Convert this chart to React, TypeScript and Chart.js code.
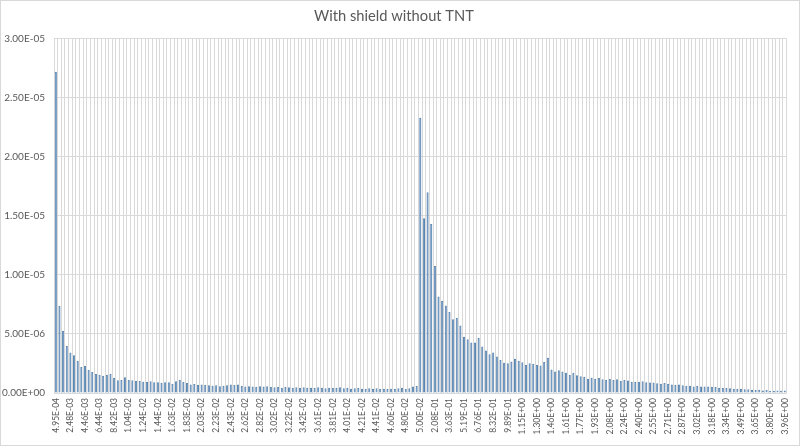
import { useEffect, useRef } from "react";
import { Chart, registerables, type Plugin } from "chart.js";

Chart.register(...registerables);

// Bin labels shown on the x axis (every 4th bin)
const TICK_LABELS: string[] = [
  "4.95E-04", "2.48E-03", "4.46E-03", "6.44E-03", "8.42E-03",
  "1.04E-02", "1.24E-02", "1.44E-02", "1.63E-02", "1.83E-02",
  "2.03E-02", "2.23E-02", "2.43E-02", "2.62E-02", "2.82E-02",
  "3.02E-02", "3.22E-02", "3.42E-02", "3.61E-02", "3.81E-02",
  "4.01E-02", "4.21E-02", "4.41E-02", "4.60E-02", "4.80E-02",
  "5.00E-02", "2.08E-01", "3.63E-01", "5.19E-01", "6.76E-01",
  "8.32E-01", "9.89E-01", "1.15E+00", "1.30E+00", "1.46E+00",
  "1.61E+00", "1.77E+00", "1.93E+00", "2.08E+00", "2.24E+00",
  "2.40E+00", "2.55E+00", "2.71E+00", "2.87E+00", "3.02E+00",
  "3.18E+00", "3.34E+00", "3.49E+00", "3.65E+00", "3.80E+00",
  "3.96E+00",
];
const LABEL_EVERY = 4;

// Counts per bin (201 bins)
const LOW_BINS: number[] = [
  27.2e-6, 7.37e-6, 5.25e-6, 3.98e-6, 3.42e-6, 3.19e-6, 2.71e-6, 2.20e-6, 2.29e-6, 1.95e-6,
  1.78e-6, 1.61e-6, 1.55e-6, 1.47e-6, 1.55e-6, 1.61e-6, 1.27e-6, 1.07e-6, 1.10e-6, 1.33e-6,
  1.10e-6, 1.07e-6, 1.02e-6, 1.02e-6, 0.96e-6, 0.93e-6, 0.99e-6, 0.90e-6, 0.90e-6, 0.85e-6,
  0.90e-6, 0.90e-6, 0.78e-6, 0.99e-6, 1.10e-6, 0.93e-6, 0.85e-6, 0.73e-6, 0.76e-6, 0.68e-6,
  0.71e-6, 0.68e-6, 0.65e-6, 0.62e-6, 0.65e-6, 0.57e-6, 0.62e-6, 0.65e-6, 0.71e-6, 0.68e-6,
  0.71e-6, 0.59e-6, 0.54e-6, 0.57e-6, 0.54e-6, 0.51e-6, 0.57e-6, 0.54e-6, 0.57e-6, 0.51e-6,
  0.48e-6, 0.51e-6, 0.45e-6, 0.51e-6, 0.48e-6, 0.45e-6, 0.48e-6, 0.42e-6, 0.48e-6, 0.45e-6,
  0.45e-6, 0.42e-6, 0.48e-6, 0.45e-6, 0.40e-6, 0.45e-6, 0.42e-6, 0.45e-6, 0.48e-6, 0.40e-6,
  0.42e-6, 0.37e-6, 0.40e-6, 0.42e-6, 0.37e-6, 0.34e-6, 0.40e-6, 0.37e-6, 0.40e-6, 0.34e-6,
  0.37e-6, 0.34e-6, 0.37e-6, 0.37e-6, 0.40e-6, 0.42e-6, 0.34e-6, 0.40e-6, 0.55e-6, 0.60e-6,
];
const HIGH_BINS: number[] = [
  23.3e-6, 14.8e-6, 17.0e-6, 14.3e-6, 10.76e-6, 8.16e-6, 7.80e-6, 7.40e-6, 6.86e-6, 6.24e-6,
  6.36e-6, 5.71e-6, 4.77e-6, 4.55e-6, 4.27e-6, 4.27e-6, 4.66e-6, 3.93e-6, 3.59e-6, 3.28e-6,
  3.42e-6, 3.08e-6, 2.80e-6, 2.57e-6, 2.52e-6, 2.67e-6, 2.91e-6, 2.71e-6, 2.60e-6, 2.37e-6,
  2.51e-6, 2.46e-6, 2.37e-6, 2.32e-6, 2.63e-6, 2.99e-6, 1.98e-6, 1.81e-6, 1.92e-6, 1.81e-6,
  1.72e-6, 1.53e-6, 1.72e-6, 1.50e-6, 1.41e-6, 1.38e-6, 1.21e-6, 1.30e-6, 1.21e-6, 1.27e-6,
  1.16e-6, 1.10e-6, 1.19e-6, 1.10e-6, 1.16e-6, 1.02e-6, 1.10e-6, 1.05e-6, 0.96e-6, 0.96e-6,
  0.93e-6, 0.99e-6, 0.90e-6, 0.88e-6, 0.88e-6, 0.82e-6, 0.79e-6, 0.85e-6, 0.79e-6, 0.73e-6,
  0.68e-6, 0.71e-6, 0.65e-6, 0.62e-6, 0.62e-6, 0.56e-6, 0.59e-6, 0.54e-6, 0.56e-6, 0.54e-6,
  0.51e-6, 0.51e-6, 0.45e-6, 0.45e-6, 0.42e-6, 0.40e-6, 0.37e-6, 0.37e-6, 0.34e-6, 0.31e-6,
  0.31e-6, 0.28e-6, 0.25e-6, 0.28e-6, 0.22e-6, 0.25e-6, 0.20e-6, 0.18e-6, 0.22e-6, 0.20e-6,
  0.22e-6,
];
const VALUES = [...LOW_BINS, ...HIGH_BINS];

const Y_MIN = 0;
const Y_MAX = 3.0e-5;
const Y_STEP = 5.0e-6;

const TEXT = "#595959";
const GRID = "#d9d9d9";

// Excel style: 5.00E-06, 0.00E+00
function sci(v: number): string {
  const [m, e] = v.toExponential(2).split("e");
  const n = parseInt(e, 10);
  return `${m}E${n < 0 ? "-" : "+"}${String(Math.abs(n)).padStart(2, "0")}`;
}

const frame: Plugin<"bar"> = {
  id: "frame",
  afterDraw(chart) {
    const { ctx, width, height } = chart;
    ctx.save();
    ctx.strokeStyle = GRID;
    ctx.lineWidth = 1;
    ctx.strokeRect(0.5, 0.5, width - 1, height - 1);
    ctx.restore();
  },
};

export default function App() {
  const canvasRef = useRef<HTMLCanvasElement>(null);
  const chartRef = useRef<Chart | null>(null);

  useEffect(() => {
    document.body.style.margin = "0";
    if (!canvasRef.current) return;
    chartRef.current?.destroy();

    const labels = VALUES.map((_, i) => (i % LABEL_EVERY === 0 ? TICK_LABELS[i / LABEL_EVERY] : ""));

    chartRef.current = new Chart(canvasRef.current, {
      type: "bar",
      data: {
        labels,
        datasets: [{
          data: VALUES,
          backgroundColor: "#a6c8e8",
          borderColor: "#5a86b3",
          borderWidth: 1,
          barPercentage: 0.58,
          categoryPercentage: 1,
        }],
      },
      options: {
        responsive: true,
        maintainAspectRatio: false,
        animation: false,
        layout: { padding: { left: 0, right: 12, top: 0, bottom: 0 } },
        scales: {
          x: {
            grid: { color: GRID, drawTicks: false, offset: true },
            border: { color: GRID },
            afterFit: (s) => { s.height = 53; },
            ticks: {
              color: TEXT,
              font: { family: "Lato", size: 8.5 },
              autoSkip: false,
              minRotation: 90,
              maxRotation: 90,
              padding: 5,
            },
          },
          y: {
            min: Y_MIN,
            max: Y_MAX,
            grid: { color: GRID, drawTicks: false },
            border: { display: false },
            afterFit: (s) => { s.width = 54; },
            ticks: {
              stepSize: Y_STEP,
              color: TEXT,
              font: { family: "Lato", size: 10 },
              padding: 9,
              callback: (v) => sci(Number(v)),
            },
          },
        },
        plugins: {
          legend: { display: false },
          tooltip: { enabled: false },
          title: {
            display: true,
            text: "With shield without TNT",
            color: TEXT,
            font: { family: "Lato", size: 14.7, weight: "normal" },
            padding: { top: 7, bottom: 14 },
          },
        },
      },
      plugins: [frame],
    });

    return () => {
      chartRef.current?.destroy();
      chartRef.current = null;
    };
  }, []);

  return (
    <div style={{ width: 800, height: 446, position: "relative" }}>
      <canvas ref={canvasRef} />
    </div>
  );
}
